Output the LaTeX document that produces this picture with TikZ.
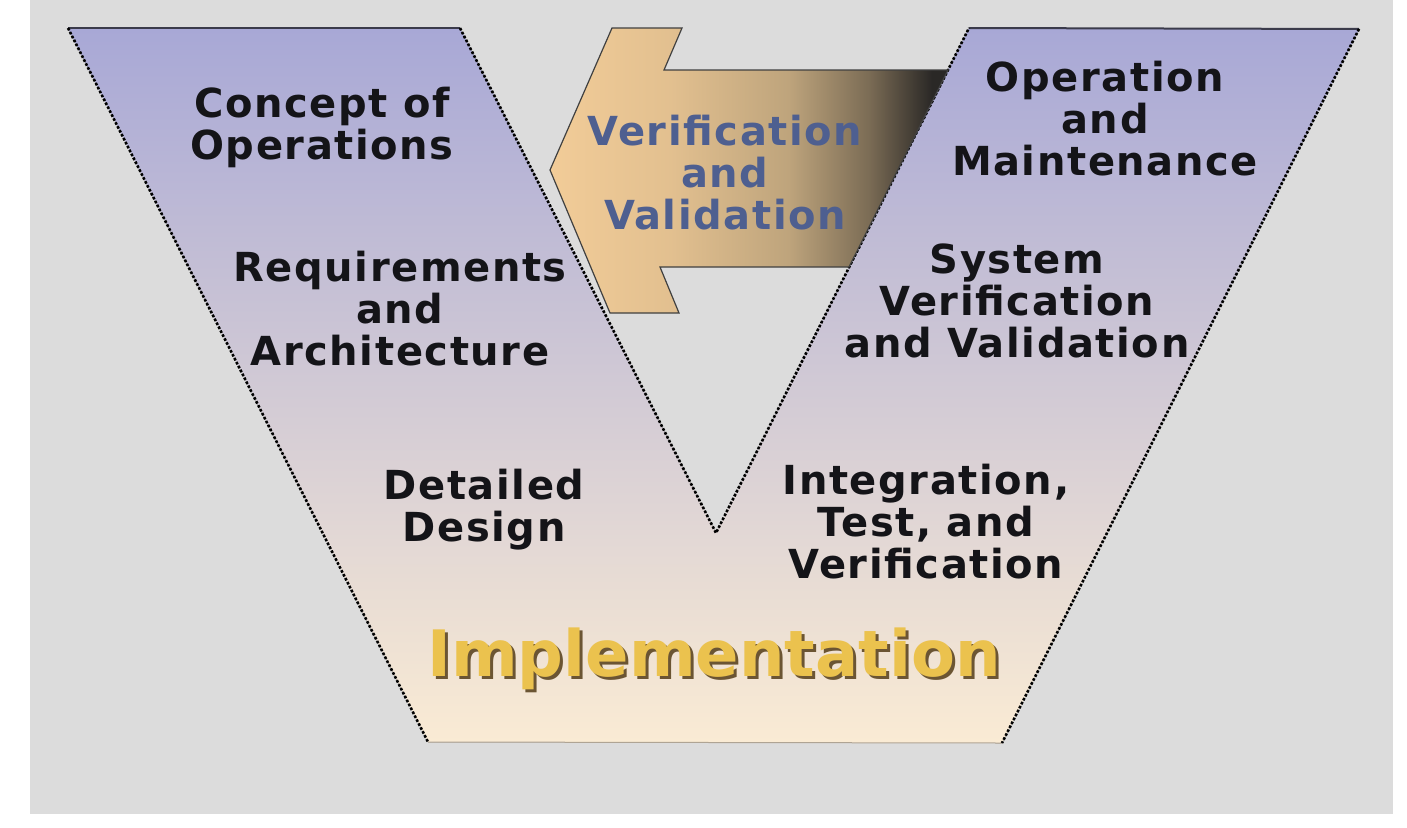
\documentclass[tikz,border=0pt]{standalone}
\usepackage{fontspec}
\setmainfont{DejaVu Sans}
\newfontfamily\phasefont{DejaVu Sans}[LetterSpace=4]
\usetikzlibrary{calc}

\definecolor{bg}{HTML}{DCDCDC}
\definecolor{vtop}{HTML}{A8A8D6}
\definecolor{vmid}{HTML}{D4CCDC}
\definecolor{vbot}{HTML}{FAEBD4}
\definecolor{ink}{HTML}{141418}
\definecolor{vvblue}{HTML}{4E5F90}
\definecolor{arrowlight}{HTML}{F2CC98}
\definecolor{arrowmid}{HTML}{BEA47C}
\definecolor{arrowdark}{HTML}{2A2826}
\definecolor{implgold}{HTML}{EBC24E}
\definecolor{implshadow}{HTML}{6B5533}

\pgfdeclarehorizontalshading{arrowshade}{100bp}{%
    color(0bp)=(arrowlight); color(25bp)=(arrowlight);
    color(40bp)=(arrowlight!70!arrowmid); color(55bp)=(arrowmid);
    color(65bp)=(arrowmid!55!arrowdark); color(73bp)=(arrowdark);
    color(100bp)=(arrowdark)}

\begin{document}
\begin{tikzpicture}[%
    x=1pt, y=-1pt,
    vline/.style={%
        draw=black,
        line width=2.6pt,
        line cap=butt,
        dash pattern=on 2.6pt off 1.8pt,
    },
    rim/.style={draw=black!65!vtop, line width=2pt},
    phase/.style={%
        font=\phasefont\bfseries\fontsize{40}{42}\selectfont,
        text=ink,
        align=center,
        inner sep=0pt,
        anchor=north,
    },
    vv/.style={phase, text=vvblue},
    impl/.style={%
        font=\bfseries\fontsize{64}{70}\selectfont,
        inner sep=0pt,
        anchor=base,
    }
]
\useasboundingbox (0,0) rectangle (1407,827);
\fill[white] (0,0) rectangle (1407,827);
\fill[bg] (30,0) rectangle (1393,814);

% corners of the V
\coordinate (otl) at (68,28);
\coordinate (itl) at (460,28);
\coordinate (tip) at (716,533);
\coordinate (itr) at (969,28);
\coordinate (otr) at (1359,29);
\coordinate (obr) at (1002,743);
\coordinate (obl) at (428,742);

\fill[top color=vtop, middle color=vmid, bottom color=vbot]
    (otl) -- (itl) -- (tip) -- (itr) -- (otr) -- (obr) -- (obl) -- cycle;
\draw[rim] (otl) -- (itl);
\draw[rim] (itr) -- (otr);
\draw[draw=vbot!70!black, line width=1pt] (obl) -- (obr);
\draw[vline] (otl) -- (obl);
\draw[vline] (itl) -- (tip) -- (itr);
\draw[vline] (otr) -- (obr);

% the arrow back to the left
\path[shading=arrowshade, draw=black!75, line width=1.2pt]
    (948,70) -- (664,70) -- (682,28) -- (612,28) -- (550,170)
    -- (610,313) -- (679,313) -- (660,267) -- (849,267) -- cycle;

\node[vv] (vandv) at (725,115) {Verification\\and\\Validation};

\node[phase] (conops) at (322,87) {Concept of\\Operations};
\node[phase] (reqs) at (400,251) {Requirements\\and\\Architecture};
\node[phase] (design) at (484,469) {Detailed\\Design};
\node[phase] (opmaint) at (1105,61) {Operation\\and\\Maintenance};
\node[phase] (sysvv) at (1017,244) {System\\Verification\\and Validation};
\node[phase] (integ) at (926,464) {Integration,\\Test, and\\Verification};

\node[impl, text=implshadow] (implback) at (717,679) {Implementation};
\node[impl, text=implgold] (impl) at ($(implback.base)+(-3,-3)$) {Implementation};
\end{tikzpicture}
\end{document}
